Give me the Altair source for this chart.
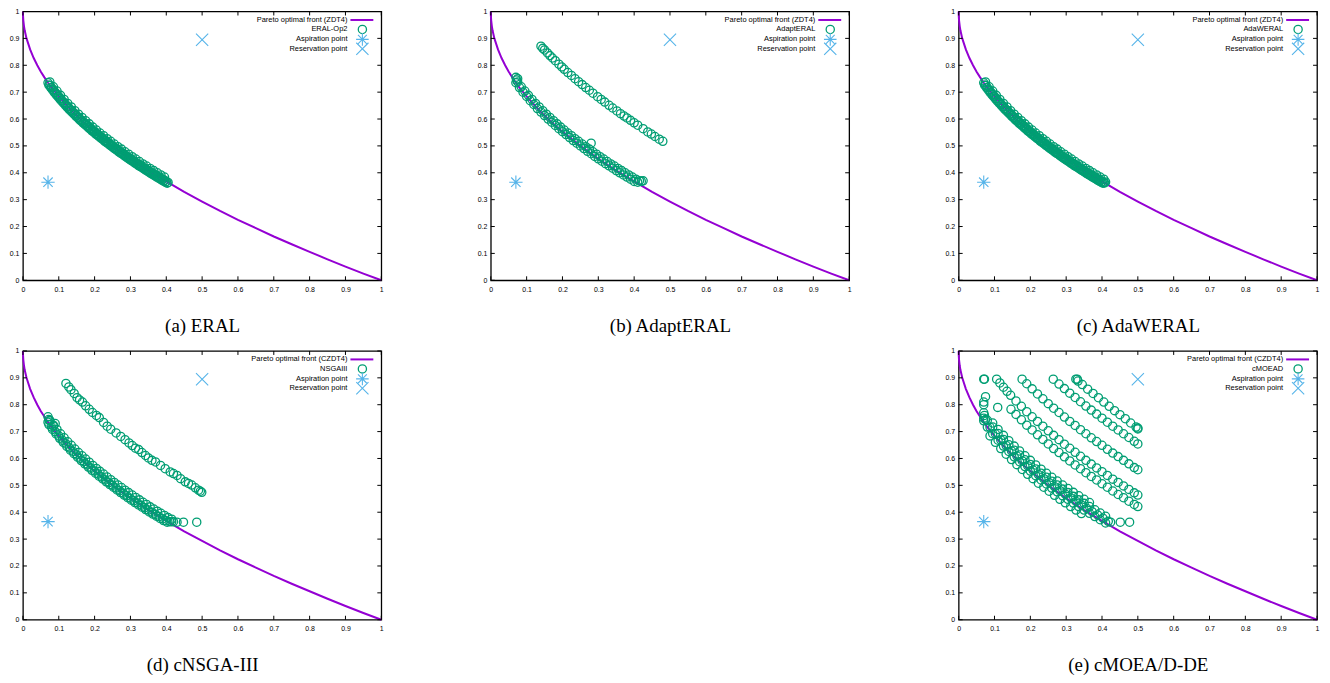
import altair as alt
import pandas as pd

PURPLE = "#9400D3"
GREEN = "#009E73"
BLUE = "#56B4E9"
ASTER = "M-1,0L1,0M0,-1L0,1M-0.7,-0.7L0.7,0.7M-0.7,0.7L0.7,-0.7"
XSHAPE = "M-1,-1L1,1M-1,1L1,-1"

W = 360
H = 270

TICKS = [0.0, 0.1, 0.2, 0.3, 0.4, 0.5, 0.6, 0.7, 0.8, 0.9, 1.0]

# Pareto optimal front
FRONT_X = [0.0, 0.0002, 0.001, 0.003, 0.005, 0.01, 0.02, 0.03, 0.04, 0.05, 0.06, 0.07, 0.08, 0.1, 0.12,
           0.14, 0.16, 0.18, 0.2, 0.25, 0.3, 0.35, 0.4, 0.45, 0.5, 0.55, 0.6, 0.65, 0.7, 0.75, 0.8,
           0.85, 0.9, 0.95, 1.0]
FRONT_Y = [1.0, 0.986, 0.968, 0.945, 0.929, 0.9, 0.859, 0.827, 0.8, 0.776, 0.755, 0.735, 0.717, 0.684, 0.654,
           0.626, 0.6, 0.576, 0.553, 0.5, 0.452, 0.408, 0.368, 0.329, 0.293, 0.258, 0.225, 0.194, 0.163, 0.134, 0.106,
           0.078, 0.051, 0.025, 0.0]

ASP_X = [0.07]
ASP_Y = [0.365]
RES_X = [0.5]
RES_Y = [0.895]

# (a) ERAL
ERAL_X = [0.070, 0.075, 0.080, 0.085, 0.090, 0.095, 0.100, 0.105, 0.110, 0.115, 0.120, 0.125, 0.130, 0.135,
          0.140, 0.145, 0.150, 0.155, 0.160, 0.165, 0.170, 0.175, 0.180, 0.185, 0.190, 0.195, 0.200, 0.205,
          0.210, 0.215, 0.220, 0.225, 0.230, 0.235, 0.240, 0.245, 0.250, 0.255, 0.260, 0.265, 0.270, 0.275,
          0.280, 0.285, 0.290, 0.295, 0.300, 0.305, 0.310, 0.315, 0.320, 0.325, 0.330, 0.335, 0.340, 0.345,
          0.350, 0.355, 0.360, 0.365, 0.370, 0.375, 0.380, 0.385, 0.390, 0.395, 0.400, 0.405]
ERAL_Y = [0.735, 0.726, 0.717, 0.708, 0.700, 0.692, 0.684, 0.676, 0.668, 0.661, 0.654, 0.646, 0.639, 0.633,
          0.626, 0.619, 0.613, 0.606, 0.600, 0.594, 0.588, 0.582, 0.576, 0.570, 0.564, 0.558, 0.553, 0.547,
          0.542, 0.536, 0.531, 0.526, 0.520, 0.515, 0.510, 0.505, 0.500, 0.495, 0.490, 0.485, 0.480, 0.476,
          0.471, 0.466, 0.461, 0.457, 0.452, 0.448, 0.443, 0.439, 0.434, 0.430, 0.426, 0.421, 0.417, 0.413,
          0.408, 0.404, 0.400, 0.396, 0.392, 0.388, 0.384, 0.380, 0.376, 0.372, 0.368, 0.364]
ERAL2_X = [0.075, 0.085, 0.095, 0.105, 0.115, 0.125, 0.135, 0.145, 0.155, 0.165, 0.175, 0.185, 0.195,
           0.205, 0.215, 0.225, 0.235, 0.245, 0.255, 0.265, 0.275, 0.285, 0.295, 0.305, 0.315, 0.325,
           0.335, 0.345, 0.355, 0.365, 0.375, 0.385, 0.395]
ERAL2_Y = [0.738, 0.720, 0.704, 0.688, 0.673, 0.658, 0.645, 0.631, 0.618, 0.606, 0.594, 0.582, 0.570,
           0.559, 0.548, 0.538, 0.527, 0.517, 0.507, 0.497, 0.488, 0.478, 0.469, 0.460, 0.451, 0.442,
           0.433, 0.425, 0.416, 0.408, 0.400, 0.392, 0.384]
ERAL3_X = [0.0725, 0.0775, 0.0825, 0.0875, 0.0925, 0.0975, 0.1025, 0.1075, 0.1125, 0.1175, 0.1225, 0.1275,
           0.1325, 0.1375, 0.1425, 0.1475, 0.1525, 0.1575, 0.1625, 0.1675, 0.1725, 0.1775, 0.1825, 0.1875,
           0.1925, 0.1975, 0.2025, 0.2075, 0.2125, 0.2175, 0.2225, 0.2275, 0.2325, 0.2375, 0.2425, 0.2475,
           0.2525, 0.2575, 0.2625, 0.2675, 0.2725, 0.2775, 0.2825, 0.2875, 0.2925, 0.2975, 0.3025, 0.3075,
           0.3125, 0.3175, 0.3225, 0.3275, 0.3325, 0.3375, 0.3425, 0.3475, 0.3525, 0.3575, 0.3625, 0.3675,
           0.3725, 0.3775, 0.3825, 0.3875, 0.3925, 0.3975, 0.4025]
ERAL3_Y = [0.726, 0.717, 0.708, 0.699, 0.691, 0.683, 0.675, 0.667, 0.660, 0.653, 0.645, 0.638, 0.631,
           0.625, 0.618, 0.611, 0.605, 0.598, 0.592, 0.586, 0.580, 0.574, 0.568, 0.562, 0.556, 0.551,
           0.545, 0.540, 0.534, 0.529, 0.524, 0.518, 0.513, 0.508, 0.503, 0.498, 0.493, 0.488, 0.483,
           0.478, 0.473, 0.469, 0.464, 0.459, 0.454, 0.450, 0.445, 0.441, 0.436, 0.432, 0.427, 0.423,
           0.419, 0.414, 0.410, 0.406, 0.401, 0.397, 0.393, 0.389, 0.385, 0.381, 0.377, 0.373, 0.369,
           0.365, 0.361]

# (c) AdaWERAL
ADAW_X = [0.070, 0.075, 0.080, 0.085, 0.090, 0.095, 0.100, 0.105, 0.110, 0.115, 0.120, 0.125, 0.130, 0.135,
          0.140, 0.145, 0.150, 0.155, 0.160, 0.165, 0.170, 0.175, 0.180, 0.185, 0.190, 0.195, 0.200, 0.205,
          0.210, 0.215, 0.220, 0.225, 0.230, 0.235, 0.240, 0.245, 0.250, 0.255, 0.260, 0.265, 0.270, 0.275,
          0.280, 0.285, 0.290, 0.295, 0.300, 0.305, 0.310, 0.315, 0.320, 0.325, 0.330, 0.335, 0.340, 0.345,
          0.350, 0.355, 0.360, 0.365, 0.370, 0.375, 0.380, 0.385, 0.390, 0.395, 0.400, 0.405, 0.410]
ADAW_Y = [0.735, 0.726, 0.717, 0.708, 0.700, 0.692, 0.684, 0.676, 0.668, 0.661, 0.654, 0.646, 0.639, 0.633,
          0.626, 0.619, 0.613, 0.606, 0.600, 0.594, 0.588, 0.582, 0.576, 0.570, 0.564, 0.558, 0.553, 0.547,
          0.542, 0.536, 0.531, 0.526, 0.520, 0.515, 0.510, 0.505, 0.500, 0.495, 0.490, 0.485, 0.480, 0.476,
          0.471, 0.466, 0.461, 0.457, 0.452, 0.448, 0.443, 0.439, 0.434, 0.430, 0.426, 0.421, 0.417, 0.413,
          0.408, 0.404, 0.400, 0.396, 0.392, 0.388, 0.384, 0.380, 0.376, 0.372, 0.368, 0.364, 0.366]
ADAW2_X = [0.075, 0.085, 0.095, 0.105, 0.115, 0.125, 0.135, 0.145, 0.155, 0.165, 0.175, 0.185, 0.195,
           0.205, 0.215, 0.225, 0.235, 0.245, 0.255, 0.265, 0.275, 0.285, 0.295, 0.305, 0.315, 0.325,
           0.335, 0.345, 0.355, 0.365, 0.375, 0.385, 0.395, 0.405]
ADAW2_Y = [0.738, 0.720, 0.704, 0.688, 0.673, 0.658, 0.645, 0.631, 0.618, 0.606, 0.594, 0.582, 0.570,
           0.559, 0.548, 0.538, 0.527, 0.517, 0.507, 0.497, 0.488, 0.478, 0.469, 0.460, 0.451, 0.442,
           0.433, 0.425, 0.416, 0.408, 0.400, 0.392, 0.384, 0.376]
ADAW3_X = [0.0725, 0.0775, 0.0825, 0.0875, 0.0925, 0.0975, 0.1025, 0.1075, 0.1125, 0.1175, 0.1225, 0.1275,
           0.1325, 0.1375, 0.1425, 0.1475, 0.1525, 0.1575, 0.1625, 0.1675, 0.1725, 0.1775, 0.1825, 0.1875,
           0.1925, 0.1975, 0.2025, 0.2075, 0.2125, 0.2175, 0.2225, 0.2275, 0.2325, 0.2375, 0.2425, 0.2475,
           0.2525, 0.2575, 0.2625, 0.2675, 0.2725, 0.2775, 0.2825, 0.2875, 0.2925, 0.2975, 0.3025, 0.3075,
           0.3125, 0.3175, 0.3225, 0.3275, 0.3325, 0.3375, 0.3425, 0.3475, 0.3525, 0.3575, 0.3625, 0.3675,
           0.3725, 0.3775, 0.3825, 0.3875, 0.3925, 0.3975, 0.4025, 0.4075]
ADAW3_Y = [0.726, 0.717, 0.708, 0.699, 0.691, 0.683, 0.675, 0.667, 0.660, 0.653, 0.645, 0.638, 0.631,
           0.625, 0.618, 0.611, 0.605, 0.598, 0.592, 0.586, 0.580, 0.574, 0.568, 0.562, 0.556, 0.551,
           0.545, 0.540, 0.534, 0.529, 0.524, 0.518, 0.513, 0.508, 0.503, 0.498, 0.493, 0.488, 0.483,
           0.478, 0.473, 0.469, 0.464, 0.459, 0.454, 0.450, 0.445, 0.441, 0.436, 0.432, 0.427, 0.423,
           0.419, 0.414, 0.410, 0.406, 0.401, 0.397, 0.393, 0.389, 0.385, 0.381, 0.377, 0.373, 0.369,
           0.365, 0.361, 0.362]

# (b) AdaptERAL
ADAPT_LOW_X = [0.07, 0.08, 0.09, 0.10, 0.11, 0.12, 0.13, 0.14, 0.15, 0.16, 0.17, 0.18, 0.19, 0.20, 0.21, 0.22,
               0.23, 0.24, 0.25, 0.26, 0.27, 0.28, 0.29, 0.30, 0.31, 0.32, 0.33, 0.34, 0.35, 0.36, 0.37, 0.38,
               0.39, 0.40, 0.41, 0.42]
ADAPT_LOW_Y = [0.735, 0.717, 0.700, 0.684, 0.668, 0.654, 0.639, 0.626, 0.613, 0.600, 0.588, 0.576, 0.564,
               0.553, 0.542, 0.531, 0.520, 0.510, 0.500, 0.490, 0.480, 0.471, 0.461, 0.452, 0.443, 0.434,
               0.426, 0.417, 0.408, 0.400, 0.392, 0.384, 0.376, 0.368, 0.365, 0.368]
ADAPT_MID_X = [0.075, 0.085, 0.095, 0.105, 0.115, 0.125, 0.135, 0.145, 0.155, 0.165, 0.175, 0.185, 0.195,
               0.205, 0.215, 0.225, 0.235, 0.245, 0.255, 0.265, 0.275, 0.285, 0.295, 0.305, 0.315, 0.325,
               0.335, 0.345, 0.355, 0.365, 0.375, 0.385, 0.395, 0.405, 0.415]
ADAPT_MID_Y = [0.738, 0.720, 0.704, 0.688, 0.673, 0.658, 0.645, 0.631, 0.618, 0.606, 0.594, 0.582, 0.570,
               0.559, 0.548, 0.538, 0.527, 0.517, 0.507, 0.497, 0.488, 0.478, 0.469, 0.460, 0.451, 0.442,
               0.433, 0.425, 0.416, 0.408, 0.400, 0.392, 0.384, 0.376, 0.370]
ADAPT_UP_X = [0.140, 0.145, 0.150, 0.158, 0.165, 0.172, 0.180, 0.190, 0.198, 0.205, 0.215, 0.225, 0.235,
              0.245, 0.255, 0.265, 0.275, 0.285, 0.298, 0.308, 0.318, 0.330, 0.340, 0.352, 0.362, 0.372,
              0.380, 0.390, 0.400, 0.410, 0.425, 0.438, 0.448, 0.458, 0.470, 0.480]
ADAPT_UP_Y = [0.871, 0.863, 0.857, 0.846, 0.836, 0.827, 0.817, 0.804, 0.794, 0.785, 0.773, 0.762, 0.750,
              0.739, 0.728, 0.717, 0.707, 0.696, 0.683, 0.673, 0.663, 0.651, 0.641, 0.630, 0.620, 0.611,
              0.604, 0.595, 0.586, 0.577, 0.564, 0.552, 0.544, 0.535, 0.525, 0.517]
ADAPT_EXTRA_X = [0.070, 0.072, 0.075, 0.280, 0.425]
ADAPT_EXTRA_Y = [0.755, 0.745, 0.750, 0.510, 0.370]

# (d) cNSGA-III
NSGA_LOW_X = [0.07, 0.08, 0.09, 0.10, 0.11, 0.12, 0.13, 0.14, 0.15, 0.16, 0.17, 0.18, 0.19, 0.20, 0.21, 0.22,
              0.23, 0.24, 0.25, 0.26, 0.27, 0.28, 0.29, 0.30, 0.31, 0.32, 0.33, 0.34, 0.35, 0.36, 0.37, 0.38,
              0.39, 0.40, 0.41, 0.42]
NSGA_LOW_Y = [0.735, 0.717, 0.700, 0.684, 0.668, 0.654, 0.639, 0.626, 0.613, 0.600, 0.588, 0.576, 0.564,
              0.553, 0.542, 0.531, 0.520, 0.510, 0.500, 0.490, 0.480, 0.471, 0.461, 0.452, 0.443, 0.434,
              0.426, 0.417, 0.408, 0.400, 0.392, 0.384, 0.376, 0.368, 0.365, 0.365]
NSGA_MID_X = [0.075, 0.085, 0.095, 0.105, 0.115, 0.125, 0.135, 0.145, 0.155, 0.165, 0.175, 0.185, 0.195,
              0.205, 0.215, 0.225, 0.235, 0.245, 0.255, 0.265, 0.275, 0.285, 0.295, 0.305, 0.315, 0.325,
              0.335, 0.345, 0.355, 0.365, 0.375, 0.385, 0.395, 0.405, 0.415]
NSGA_MID_Y = [0.742, 0.724, 0.708, 0.692, 0.677, 0.662, 0.649, 0.635, 0.622, 0.610, 0.598, 0.586, 0.574,
              0.563, 0.552, 0.542, 0.531, 0.521, 0.511, 0.501, 0.492, 0.482, 0.473, 0.464, 0.455, 0.446,
              0.437, 0.429, 0.420, 0.412, 0.404, 0.396, 0.388, 0.380, 0.374]
NSGA_LOW2_X = [0.0725, 0.0825, 0.0925, 0.1025, 0.1125, 0.1225, 0.1325, 0.1425, 0.1525, 0.1625, 0.1725,
               0.1825, 0.1925, 0.2025, 0.2125, 0.2225, 0.2325, 0.2425, 0.2525, 0.2625, 0.2725, 0.2825,
               0.2925, 0.3025, 0.3125, 0.3225, 0.3325, 0.3425, 0.3525, 0.3625, 0.3725, 0.3825, 0.3925, 0.4025]
NSGA_LOW2_Y = [0.726, 0.708, 0.691, 0.675, 0.660, 0.645, 0.631, 0.618, 0.605, 0.592, 0.580, 0.568, 0.556,
               0.545, 0.534, 0.524, 0.513, 0.503, 0.493, 0.483, 0.473, 0.464, 0.454, 0.445, 0.436, 0.427,
               0.419, 0.410, 0.401, 0.393, 0.385, 0.377, 0.369, 0.363]
NSGA_UP_X = [0.120, 0.128, 0.134, 0.143, 0.151, 0.158, 0.166, 0.175, 0.185, 0.194, 0.205, 0.213, 0.225,
             0.235, 0.245, 0.260, 0.273, 0.285, 0.296, 0.305, 0.314, 0.323, 0.332, 0.342, 0.350, 0.360,
             0.370, 0.384, 0.397, 0.411, 0.420, 0.430, 0.440, 0.453, 0.462, 0.471, 0.481, 0.490, 0.495, 0.499]
NSGA_UP_Y = [0.879, 0.866, 0.856, 0.842, 0.826, 0.818, 0.810, 0.796, 0.783, 0.771, 0.760, 0.752, 0.734,
             0.720, 0.709, 0.695, 0.682, 0.670, 0.658, 0.648, 0.638, 0.633, 0.622, 0.611, 0.602, 0.593,
             0.587, 0.574, 0.562, 0.550, 0.544, 0.537, 0.525, 0.513, 0.507, 0.501, 0.491, 0.482, 0.478, 0.474]
NSGA_EXTRA_X = [0.070, 0.072, 0.075, 0.085, 0.090, 0.415, 0.430, 0.448, 0.485]
NSGA_EXTRA_Y = [0.755, 0.745, 0.740, 0.720, 0.730, 0.365, 0.363, 0.363, 0.363]

# (e) cMOEA/D-DE
MOEAD_L1_X = [0.327, 0.331, 0.333, 0.345, 0.360, 0.375, 0.390, 0.405, 0.420, 0.435, 0.450, 0.465, 0.480,
              0.495, 0.500, 0.500]
MOEAD_L1_Y = [0.895, 0.895, 0.888, 0.875, 0.858, 0.842, 0.826, 0.810, 0.794, 0.778, 0.763, 0.748, 0.732,
              0.717, 0.713, 0.710]
MOEAD_L2_X = [0.264, 0.280, 0.295, 0.310, 0.325, 0.340, 0.355, 0.370, 0.385, 0.400, 0.415, 0.430, 0.445,
              0.460, 0.475, 0.490, 0.500]
MOEAD_L2_Y = [0.895, 0.877, 0.860, 0.843, 0.827, 0.811, 0.795, 0.780, 0.765, 0.750, 0.735, 0.720, 0.706,
              0.692, 0.678, 0.664, 0.654]
MOEAD_L3_X = [0.177, 0.190, 0.205, 0.220, 0.235, 0.250, 0.265, 0.280, 0.295, 0.310, 0.325, 0.340, 0.355,
              0.370, 0.385, 0.400, 0.415, 0.430, 0.445, 0.460, 0.475, 0.490, 0.500]
MOEAD_L3_Y = [0.895, 0.878, 0.859, 0.840, 0.822, 0.804, 0.787, 0.771, 0.754, 0.738, 0.723, 0.707, 0.692,
              0.677, 0.663, 0.649, 0.634, 0.620, 0.607, 0.593, 0.580, 0.566, 0.558]
MOEAD_L4_X = [0.106, 0.115, 0.125, 0.135, 0.145, 0.160, 0.175, 0.190, 0.205, 0.220, 0.235, 0.250, 0.265,
              0.280, 0.295, 0.310, 0.325, 0.340, 0.355, 0.370, 0.385, 0.400, 0.415, 0.430, 0.445, 0.460,
              0.475, 0.490, 0.500]
MOEAD_L4_Y = [0.895, 0.881, 0.865, 0.850, 0.835, 0.814, 0.794, 0.774, 0.755, 0.738, 0.720, 0.703, 0.686,
              0.670, 0.653, 0.638, 0.623, 0.608, 0.593, 0.579, 0.565, 0.551, 0.537, 0.523, 0.511, 0.498,
              0.485, 0.472, 0.464]
MOEAD_L5_X = [0.146, 0.160, 0.175, 0.190, 0.205, 0.220, 0.235, 0.250, 0.265, 0.280, 0.295, 0.310, 0.325,
              0.340, 0.355, 0.370, 0.385, 0.400, 0.415, 0.430, 0.445, 0.460, 0.475, 0.490, 0.500]
MOEAD_L5_Y = [0.783, 0.764, 0.744, 0.724, 0.706, 0.688, 0.671, 0.654, 0.637, 0.622, 0.606, 0.591, 0.576,
              0.562, 0.547, 0.533, 0.520, 0.506, 0.493, 0.479, 0.466, 0.454, 0.441, 0.429, 0.421]
MOEAD_BAND_X = [0.080, 0.095, 0.110, 0.125, 0.140, 0.155, 0.170, 0.185, 0.200, 0.215, 0.230, 0.245, 0.260,
                0.275, 0.290, 0.305, 0.320, 0.335, 0.350, 0.365, 0.380, 0.395, 0.410]
MOEAD_BAND_Y = [0.717, 0.692, 0.668, 0.646, 0.626, 0.606, 0.588, 0.570, 0.553, 0.536, 0.520, 0.505, 0.490,
                0.476, 0.461, 0.448, 0.434, 0.421, 0.408, 0.396, 0.384, 0.372, 0.360]
MOEAD_BAND2_X = [0.080, 0.095, 0.110, 0.125, 0.140, 0.155, 0.170, 0.185, 0.200, 0.215, 0.230, 0.245, 0.260,
                 0.275, 0.290, 0.305, 0.320, 0.335, 0.350, 0.365, 0.380, 0.395, 0.410]
MOEAD_BAND2_Y = [0.742, 0.717, 0.693, 0.671, 0.651, 0.631, 0.613, 0.595, 0.578, 0.561, 0.545, 0.530, 0.515,
                 0.501, 0.486, 0.473, 0.459, 0.446, 0.433, 0.421, 0.409, 0.397, 0.385]
MOEAD_BAND3_X = [0.0875, 0.1025, 0.1175, 0.1325, 0.1475, 0.1625, 0.1775, 0.1925, 0.2075, 0.2225, 0.2375,
                 0.2525, 0.2675, 0.2825, 0.2975, 0.3125, 0.3275, 0.3425, 0.3575, 0.3725, 0.3875, 0.4025, 0.4175]
MOEAD_BAND3_Y = [0.716, 0.692, 0.669, 0.648, 0.628, 0.609, 0.591, 0.573, 0.557, 0.540, 0.525, 0.510, 0.495,
                 0.480, 0.467, 0.453, 0.440, 0.427, 0.414, 0.402, 0.390, 0.378, 0.366]
MOEAD_BAND4_X = [0.0875, 0.1025, 0.1175, 0.1325, 0.1475, 0.1625, 0.1775, 0.1925, 0.2075, 0.2225, 0.2375,
                 0.2525, 0.2675, 0.2825, 0.2975, 0.3125, 0.3275, 0.3425]
MOEAD_BAND4_Y = [0.684, 0.660, 0.637, 0.616, 0.596, 0.577, 0.559, 0.541, 0.525, 0.508, 0.493, 0.478, 0.463,
                 0.448, 0.435, 0.421, 0.408, 0.395]
MOEAD_BAND5_X = [0.095, 0.110, 0.125, 0.140, 0.155, 0.170, 0.185, 0.200, 0.215, 0.230, 0.245, 0.260, 0.275,
                 0.290, 0.305, 0.320, 0.335, 0.350, 0.365]
MOEAD_BAND5_Y = [0.732, 0.708, 0.686, 0.666, 0.646, 0.628, 0.610, 0.593, 0.576, 0.560, 0.545, 0.530, 0.516,
                 0.501, 0.488, 0.474, 0.461, 0.448, 0.436]
MOEAD_EXTRA_X = [0.070, 0.072, 0.070, 0.070, 0.075, 0.070, 0.072, 0.070, 0.075, 0.070, 0.109, 0.424, 0.451, 0.477]
MOEAD_EXTRA_Y = [0.895, 0.895, 0.800, 0.810, 0.830, 0.770, 0.760, 0.750, 0.745, 0.740, 0.790, 0.363, 0.363, 0.363]

PANELS = [
    ("(a) ERAL", "Pareto optimal front (ZDT4)", "ERAL-Op2",
     [(ERAL_X, ERAL_Y), (ERAL2_X, ERAL2_Y), (ERAL3_X, ERAL3_Y)]),
    ("(b) AdaptERAL", "Pareto optimal front (ZDT4)", "AdaptERAL",
     [(ADAPT_LOW_X, ADAPT_LOW_Y), (ADAPT_MID_X, ADAPT_MID_Y), (ADAPT_UP_X, ADAPT_UP_Y),
      (ADAPT_EXTRA_X, ADAPT_EXTRA_Y)]),
    ("(c) AdaWERAL", "Pareto optimal front (ZDT4)", "AdaWERAL",
     [(ADAW_X, ADAW_Y), (ADAW2_X, ADAW2_Y), (ADAW3_X, ADAW3_Y)]),
    ("(d) cNSGA-III", "Pareto optimal front (CZDT4)", "NSGAIII",
     [(NSGA_LOW_X, NSGA_LOW_Y), (NSGA_MID_X, NSGA_MID_Y), (NSGA_LOW2_X, NSGA_LOW2_Y),
      (NSGA_UP_X, NSGA_UP_Y), (NSGA_EXTRA_X, NSGA_EXTRA_Y)]),
    ("(e) cMOEA/D-DE", "Pareto optimal front (CZDT4)", "cMOEAD",
     [(MOEAD_L1_X, MOEAD_L1_Y), (MOEAD_L2_X, MOEAD_L2_Y), (MOEAD_L3_X, MOEAD_L3_Y),
      (MOEAD_L4_X, MOEAD_L4_Y), (MOEAD_L5_X, MOEAD_L5_Y), (MOEAD_BAND_X, MOEAD_BAND_Y),
      (MOEAD_BAND2_X, MOEAD_BAND2_Y), (MOEAD_BAND3_X, MOEAD_BAND3_Y), (MOEAD_BAND4_X, MOEAD_BAND4_Y),
      (MOEAD_BAND5_X, MOEAD_BAND5_Y), (MOEAD_EXTRA_X, MOEAD_EXTRA_Y)]),
]

LABEL_FONT = "Liberation Sans"
PT_SIZE = 68
PT_STROKE = 1.3

# legend layout inside each plot (pixels from the plot's top-left corner)
LEG_TEXT_X = 326
LEG_SYM_X = 341
LEG_ROWS = [8.5, 18, 28, 37.5]


def legend_layers(names):
    one = pd.DataFrame({"t": names})
    layers = []
    for i, name in enumerate(names):
        layers.append(alt.Chart(one.iloc[[i]]).mark_text(
            align="right", baseline="middle", font=LABEL_FONT, fontSize=7.5, color="black").encode(
            text="t:N", x=alt.value(LEG_TEXT_X), y=alt.value(LEG_ROWS[i])))
    layers.append(alt.Chart(one.iloc[[0]]).mark_rule(color=PURPLE, strokeWidth=2).encode(
        x=alt.value(LEG_SYM_X - 12), x2=alt.value(LEG_SYM_X + 11), y=alt.value(LEG_ROWS[0])))
    layers.append(alt.Chart(one.iloc[[1]]).mark_point(
        shape="circle", filled=False, color=GREEN, size=PT_SIZE, strokeWidth=PT_STROKE, opacity=1).encode(
        x=alt.value(LEG_SYM_X), y=alt.value(LEG_ROWS[1])))
    layers.append(alt.Chart(one.iloc[[2]]).mark_point(
        shape=ASTER, filled=False, color=BLUE, size=160, strokeWidth=1.1, opacity=1).encode(
        x=alt.value(LEG_SYM_X), y=alt.value(LEG_ROWS[2])))
    layers.append(alt.Chart(one.iloc[[3]]).mark_point(
        shape=XSHAPE, filled=False, color=BLUE, size=150, strokeWidth=1.1, opacity=1).encode(
        x=alt.value(LEG_SYM_X), y=alt.value(LEG_ROWS[3])))
    return layers


def panel(caption, front_label, algo_label, groups):
    names = [front_label, algo_label, "Aspiration point", "Reservation point"]
    xs, ys = [], []
    for gx, gy in groups:
        xs += list(gx)
        ys += list(gy)
    df_front = pd.DataFrame({"x": FRONT_X, "y": FRONT_Y})
    df_pts = pd.DataFrame({"x": xs, "y": ys})
    df_asp = pd.DataFrame({"x": ASP_X, "y": ASP_Y})
    df_res = pd.DataFrame({"x": RES_X, "y": RES_Y})
    df_tx = pd.DataFrame({"x": TICKS})
    df_ty = pd.DataFrame({"y": TICKS})

    xenc = alt.X("x:Q", scale=alt.Scale(domain=[0, 1], nice=False, zero=False),
                 axis=alt.Axis(values=TICKS, format="~g", title=caption, ticks=False, domain=False,
                               grid=False, labelFont=LABEL_FONT, labelFontSize=7, labelColor="black",
                               labelPadding=5, labelFlush=False, labelOverlap=False,
                               titleFont="Liberation Serif", titleFontSize=19, titleFontWeight="normal",
                               titleColor="black", titlePadding=24))
    yenc = alt.Y("y:Q", scale=alt.Scale(domain=[0, 1], nice=False, zero=False),
                 axis=alt.Axis(values=TICKS, format="~g", title=None, ticks=False, domain=False,
                               grid=False, labelFont=LABEL_FONT, labelFontSize=7, labelColor="black",
                               labelPadding=4, labelFlush=False, labelOverlap=False))

    front = alt.Chart(df_front).mark_line(strokeWidth=2, color=PURPLE).encode(x=xenc, y=yenc)
    pts = alt.Chart(df_pts).mark_point(shape="circle", filled=False, size=PT_SIZE, strokeWidth=PT_STROKE,
                                       color=GREEN, opacity=1).encode(x=xenc, y=yenc)
    asp = alt.Chart(df_asp).mark_point(shape=ASTER, filled=False, size=180, strokeWidth=1.1,
                                       color=BLUE, opacity=1).encode(x=xenc, y=yenc)
    res = alt.Chart(df_res).mark_point(shape=XSHAPE, filled=False, size=150, strokeWidth=1.1,
                                       color=BLUE, opacity=1).encode(x=xenc, y=yenc)

    tb = alt.Chart(df_tx).mark_rule(color="black", strokeWidth=1).encode(
        x=xenc, y=alt.value(H), y2=alt.value(H - 4))
    tt = alt.Chart(df_tx).mark_rule(color="black", strokeWidth=1).encode(
        x=xenc, y=alt.value(0), y2=alt.value(4))
    tl = alt.Chart(df_ty).mark_rule(color="black", strokeWidth=1).encode(
        y=yenc, x=alt.value(0), x2=alt.value(4))
    tr = alt.Chart(df_ty).mark_rule(color="black", strokeWidth=1).encode(
        y=yenc, x=alt.value(W), x2=alt.value(W - 4))

    return alt.layer(front, pts, asp, res, tb, tt, tl, tr, *legend_layers(names)).properties(
        width=W, height=H)


charts = [panel(*p) for p in PANELS]

blank = alt.Chart(pd.DataFrame({"x": [0.5]})).mark_point(opacity=0).encode(
    x=alt.X("x:Q", axis=None)).properties(width=W, height=H,
                                          view=alt.ViewBackground(stroke="transparent"))

chart = alt.concat(charts[0], charts[1], charts[2], charts[3], blank, charts[4],
                   columns=3, spacing={"row": 71, "column": 110}, bounds="flush").resolve_scale(
    x="independent", y="independent").properties(
    padding={"top": -3, "left": 0, "right": 0, "bottom": 0}, background="white").configure_view(
    stroke="black", strokeWidth=1.3).configure_axis(labelOverlap=False)

chart.save("out.html", embed_options={"renderer": "svg", "actions": False})
